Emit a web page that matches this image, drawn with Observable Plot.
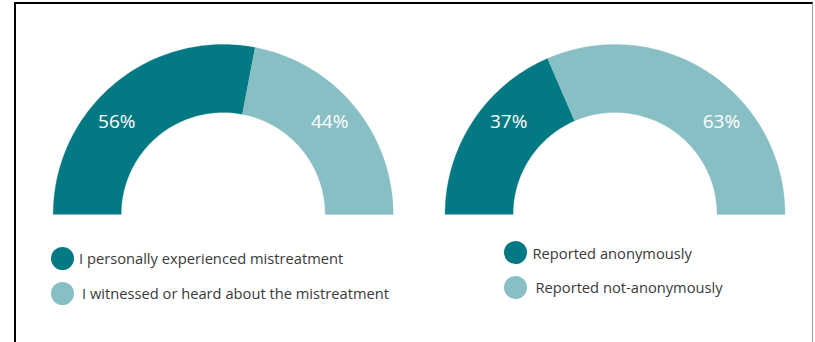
<!DOCTYPE html>
<html>
<head>
<meta charset="utf-8">
<script src="https://cdn.jsdelivr.net/npm/d3@7"></script>
<script src="https://cdn.jsdelivr.net/npm/@observablehq/plot@0.6"></script>
<style>
  html, body { margin: 0; padding: 0; background: #fff; overflow: hidden; }
  body { width: 815px; height: 342px; position: relative; font-family: "Open Sans", sans-serif; }
  #frame { position: absolute; left: 14px; top: 2px; width: 796px; height: 360px;
           border-left: 2px solid #000; border-top: 2px solid #000; border-right: 1px solid #9a9a9a; }
  #chart { position: absolute; left: 0; top: 0; }
  #legend { position: absolute; left: 0; top: 225px; width: 815px; height: 117px; }
  .item { position: absolute; display: flex; align-items: center; height: 23px; white-space: nowrap;
          font-size: 14.7px; color: #3a3a3a; }
  .sw { width: 23px; height: 23px; border-radius: 50%; flex: none; }
</style>
</head>
<body>
<div id="frame"></div>
<div id="chart"></div>
<div id="legend"></div>
<script>
// ---- data ----
const gaugeNames = ["Mistreatment", "Reporting"];
const categoriesA = ["I personally experienced mistreatment", "I witnessed or heard about the mistreatment"];
const valuesA = [56, 44];
const categoriesB = ["Reported anonymously", "Reported not-anonymously"];
const valuesB = [37, 63];
const labelsA = ["56%", "44%"];
const labelsB = ["37%", "63%"];
const colors = ["#037984", "#88bfc4"];

// ---- layout constants (in radius units) ----
const centers = [0, 2.305];
const rInner = 0.6, rOuter = 1.0;
const labelRadius = 0.83, labelFrac = 0.228;

const gauges = [
  {name: gaugeNames[0], cats: categoriesA, vals: valuesA, labels: labelsA},
  {name: gaugeNames[1], cats: categoriesB, vals: valuesB, labels: labelsB}
];

const polys = [];
const texts = [];
gauges.forEach((g, gi) => {
  const cx = centers[gi];
  const total = d3.sum(g.vals);
  let acc = 0;
  g.vals.forEach((v, i) => {
    const f0 = acc / total, f1 = (acc + v) / total;
    acc += v;
    const n = Math.max(2, Math.ceil((f1 - f0) * 180));
    const pts = [];
    for (let k = 0; k <= n; k++) {
      const a = Math.PI * (1 - (f0 + (f1 - f0) * k / n));
      pts.push({x: cx + rOuter * Math.cos(a), y: rOuter * Math.sin(a)});
    }
    for (let k = n; k >= 0; k--) {
      const a = Math.PI * (1 - (f0 + (f1 - f0) * k / n));
      pts.push({x: cx + rInner * Math.cos(a), y: rInner * Math.sin(a)});
    }
    polys.push({pts, color: colors[i]});
    const lf = i === 0 ? labelFrac : 1 - labelFrac;
    const la = Math.PI * (1 - lf);
    texts.push({x: cx + labelRadius * Math.cos(la), y: labelRadius * Math.sin(la), text: g.labels[i]});
  });
});

const W = 815;
const pxPerUnit = 170;
const cxPx = 222.7;
const plot = Plot.plot({
  width: W,
  height: 225,
  margin: 0,
  x: {domain: [-cxPx / pxPerUnit, (W - cxPx) / pxPerUnit], range: [0, W], axis: null},
  y: {domain: [0, 1.2], range: [214, 214 - 1.2 * pxPerUnit], axis: null},
  style: {background: "transparent"},
  marks: [
    ...polys.map(p => Plot.line(p.pts, {x: "x", y: "y", fill: p.color, stroke: p.color, strokeWidth: 0.3, curve: "linear"})),
    Plot.text(texts, {x: "x", y: "y", text: "text", fill: "white", fontSize: 19, fontWeight: 500, fontFamily: "Open Sans"})
  ]
});
document.getElementById("chart").appendChild(plot);

// ---- legends (HTML, below the svg) ----
const legendLayout = [
  [{left: 51, top: 21.5, gap: 5}, {left: 51, top: 56.8, gap: 8}],
  [{left: 503.5, top: 16.2, gap: 6}, {left: 503.5, top: 50.8, gap: 9}]
];
const legend = document.getElementById("legend");
gauges.forEach((g, gi) => {
  g.cats.forEach((c, i) => {
    const L = legendLayout[gi][i];
    const item = document.createElement("div");
    item.className = "item";
    item.style.left = L.left + "px";
    item.style.top = L.top + "px";
    const sw = document.createElement("span");
    sw.className = "sw";
    sw.style.background = colors[i];
    sw.style.marginRight = L.gap + "px";
    const t = document.createElement("span");
    t.textContent = c;
    item.appendChild(sw);
    item.appendChild(t);
    legend.appendChild(item);
  });
});
</script>
</body>
</html>
